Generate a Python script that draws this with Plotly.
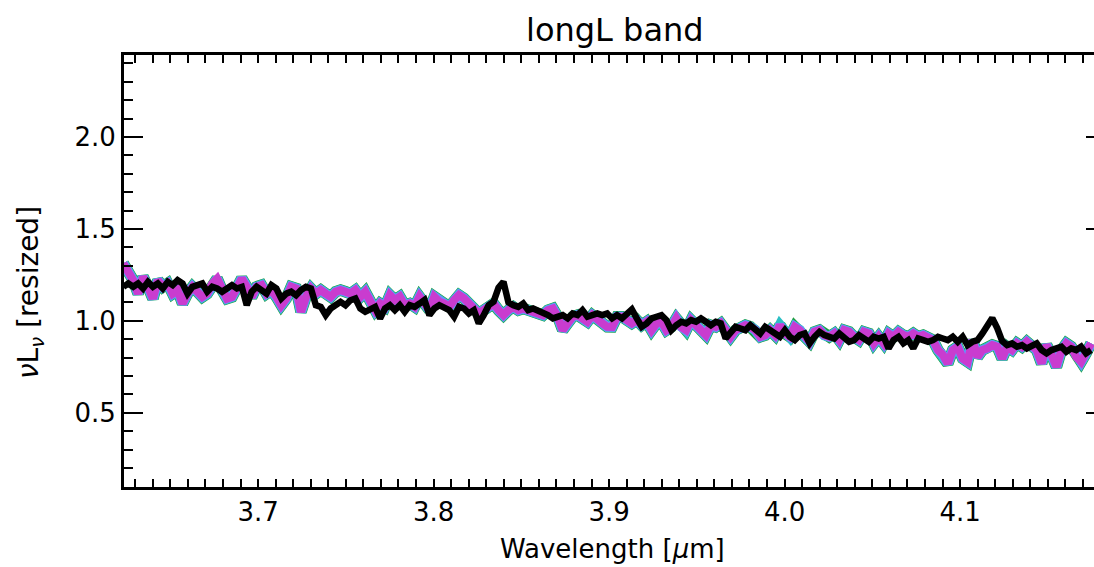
import numpy as np
import plotly.graph_objects as go

# ---- data ----
wavelength = np.linspace(3.6232, 4.1746, 197)  # micron sampling grid

obs_flux = [
    1.185, 1.203, 1.185, 1.203, 1.176, 1.212, 1.185, 1.203, 1.176, 1.212,
    1.194, 1.221, 1.203, 1.148, 1.185, 1.194, 1.203, 1.158, 1.185, 1.176,
    1.158, 1.176, 1.194, 1.176, 1.185, 1.085, 1.158, 1.185, 1.167, 1.148,
    1.194, 1.176, 1.121, 1.148, 1.158, 1.139, 1.167, 1.185, 1.176, 1.085,
    1.076, 1.031, 1.067, 1.085, 1.103, 1.085, 1.112, 1.121, 1.067,
    1.049, 1.058, 1.076, 1.013, 1.067, 1.085, 1.058, 1.085, 1.049, 1.085,
    1.076, 1.094, 1.113, 1.031, 1.067, 1.085, 1.067, 1.058, 1.022, 1.076,
    1.067, 1.040, 1.058, 0.986, 1.031, 1.085, 1.104, 1.180, 1.212, 1.100,
    1.085, 1.076, 1.094, 1.058, 1.067, 1.058, 1.040, 1.031, 1.013, 1.022,
    1.031, 1.013, 1.040, 1.031, 1.058, 1.022, 1.031, 1.040, 1.031, 1.040,
    1.013, 1.031, 1.013, 1.040, 1.062, 1.013, 0.967, 0.986, 1.013, 1.022,
    1.031, 1.004, 0.949, 0.976, 0.995, 0.986, 1.004, 0.995, 1.013, 0.995,
    0.976, 0.995, 0.986, 0.904, 0.931, 0.967, 0.958, 0.949, 0.976, 0.958,
    0.931, 0.967, 0.949, 0.940, 0.913, 0.949, 0.913, 0.895, 0.922, 0.931,
    0.877, 0.913, 0.940, 0.922, 0.913, 0.904, 0.931, 0.913,
    0.886, 0.895, 0.922, 0.904, 0.886, 0.913, 0.904, 0.913, 0.850, 0.895,
    0.913, 0.877, 0.895, 0.850, 0.904, 0.895, 0.886, 0.895, 0.913, 0.904,
    0.895, 0.913, 0.886, 0.913, 0.868, 0.886, 0.895, 0.931, 0.977, 1.015,
    0.960, 0.890, 0.868, 0.877, 0.859, 0.868, 0.850, 0.859, 0.877, 0.841,
    0.823, 0.841, 0.850, 0.859, 0.832, 0.850, 0.841, 0.859, 0.823, 0.841,
]

model_flux = [
    1.312, 1.275, 1.221, 1.148, 1.239, 1.185, 1.121, 1.221, 1.185, 1.203,
    1.148, 1.167, 1.094, 1.148, 1.185, 1.158, 1.130, 1.148, 1.203, 1.230,
    1.167, 1.121, 1.130, 1.176, 1.230, 1.185, 1.130, 1.185, 1.194, 1.148,
    1.167, 1.130, 1.085, 1.121, 1.185, 1.176, 1.049, 1.130, 1.176, 1.148,
    1.167, 1.148, 1.130, 1.158, 1.167, 1.158, 1.148, 1.167, 1.130,
    1.158, 1.113, 1.058, 1.094, 1.076, 1.140, 1.113, 1.131, 1.085, 1.094,
    1.076, 1.131, 1.094, 1.058, 1.131, 1.104, 1.094, 1.076, 1.113, 1.140,
    1.122, 1.094, 1.058, 1.040, 1.058, 1.076, 1.094, 1.058, 1.031, 1.058,
    1.076, 1.058, 1.067, 1.058, 1.049, 1.040, 1.031, 1.058, 1.067, 1.022,
    0.950, 0.986, 1.022, 1.031, 1.013, 0.995, 1.031, 1.004, 0.986, 0.968,
    0.967, 1.022, 1.022, 1.004, 0.986, 1.004, 0.976, 0.995, 0.949, 0.986,
    0.995, 0.949, 0.967, 1.013, 0.967, 0.949, 1.004, 0.976, 0.949, 0.922,
    0.976, 0.967, 0.986, 0.940, 0.913, 0.949, 0.958, 0.976, 0.967, 0.949,
    0.913, 0.922, 0.949, 0.922, 0.976, 0.931, 0.913, 0.967, 0.949, 0.913,
    0.886, 0.940, 0.949, 0.922, 0.913, 0.931, 0.895, 0.949,
    0.940, 0.913, 0.895, 0.940, 0.931, 0.877, 0.913, 0.877, 0.931, 0.913,
    0.940, 0.922, 0.913, 0.931, 0.913, 0.922, 0.913, 0.895, 0.841, 0.814,
    0.768, 0.841, 0.859, 0.795, 0.777, 0.895, 0.804, 0.841, 0.850, 0.868,
    0.859, 0.795, 0.859, 0.841, 0.877, 0.859, 0.886, 0.859, 0.841, 0.768,
    0.868, 0.814, 0.750, 0.841, 0.877, 0.859, 0.804, 0.777, 0.823, 0.877,
]

x_range = [3.6236, 4.1763]
y_range = [0.096, 2.446]
title_text = "longL band"
x_title = "Wavelength [<i>μ</i>m]"
y_title = "<i>ν</i>L<sub><i>ν</i></sub> [resized]"

FONT = "DejaVu Sans"

fig = go.Figure()
# underlying model curves (edges peek out around the magenta band)
under = [("#1e9a3c", 11.5), ("#2cbfc4", 10.5), ("#6f8cff", 9.5)]
for col, w in under:
    fig.add_trace(go.Scatter(x=wavelength, y=model_flux, mode="lines",
                             line=dict(color=col, width=w),
                             showlegend=False, hoverinfo="skip"))
fig.add_trace(go.Scatter(x=wavelength, y=model_flux, mode="lines",
                         line=dict(color="#c93ccf", width=8),
                         showlegend=False, hoverinfo="skip"))
# observed spectrum on top (on the overlaying axis, identical range)
fig.add_trace(go.Scatter(x=wavelength, y=obs_flux, mode="lines", yaxis="y2",
                         line=dict(color="black", width=6.5),
                         showlegend=False, hoverinfo="skip"))

axis_font = dict(family=FONT, size=26, color="black")

fig.update_layout(
    width=1094, height=567,
    margin=dict(l=124, r=0, t=55, b=80),
    paper_bgcolor="white", plot_bgcolor="white",
    showlegend=False,
    xaxis=dict(range=x_range, showline=True, linecolor="black", linewidth=3,
               mirror="allticks", ticks="inside", ticklen=8, tickwidth=2,
               tickcolor="black", tick0=3.7, dtick=0.1, tickformat=".1f",
               showgrid=False, zeroline=False, tickfont=axis_font,
               minor=dict(dtick=0.01, ticks="inside", ticklen=4, tickwidth=2,
                          tickcolor="black", showgrid=False)),
    yaxis=dict(range=y_range, showline=True, linecolor="black", linewidth=3,
               mirror=False, ticks="inside", ticklen=19, tickwidth=2,
               tickcolor="black", tick0=0, dtick=0.5, tickformat=".1f",
               showgrid=False, zeroline=False, tickfont=axis_font,
               minor=dict(dtick=0.1, ticks="inside", ticklen=9, tickwidth=2,
                          tickcolor="black", showgrid=False)),
    yaxis2=dict(range=y_range, overlaying="y", side="right", showline=False,
                ticks="inside", ticklen=8, tickwidth=2, tickcolor="black",
                tick0=0, dtick=0.5, showticklabels=False, showgrid=False,
                zeroline=False),
    annotations=[
        dict(text=title_text, xref="paper", yref="paper", x=0.506, y=1.058,
             xanchor="center", yanchor="middle", showarrow=False,
             font=dict(family=FONT, size=32, color="black")),
        dict(text=x_title, xref="paper", yref="paper", x=0.504, y=-0.143,
             xanchor="center", yanchor="middle", showarrow=False,
             font=axis_font),
        dict(text=y_title, xref="paper", yref="paper", x=-0.097, y=0.451,
             xanchor="center", yanchor="middle", showarrow=False,
             textangle=-90, font=dict(family=FONT, size=28, color="black")),
    ],
)

fig.write_html("out.html")
